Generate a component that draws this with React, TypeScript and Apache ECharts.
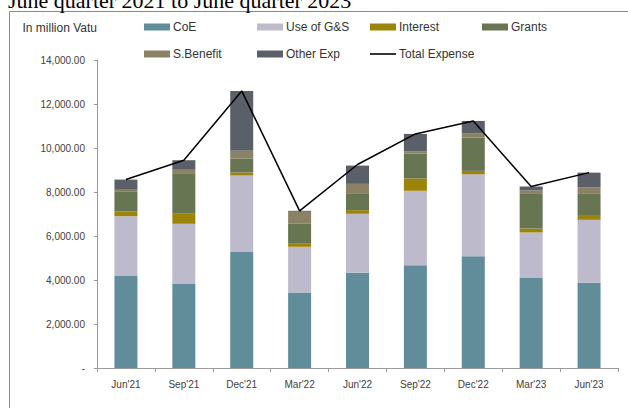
import React, { useEffect, useRef } from "react";
import * as echarts from "echarts";

const categories = ["Jun'21", "Sep'21", "Dec'21", "Mar'22", "Jun'22", "Sep'22", "Dec'22", "Mar'23", "Jun'23"];
const coe = [4210, 3845, 5300, 3435, 4330, 4675, 5085, 4115, 3875];
const useOfGS = [2690, 2710, 3450, 2075, 2680, 3380, 3720, 2045, 2860];
const interest = [215, 485, 135, 165, 165, 560, 155, 180, 180];
const grants = [920, 1815, 635, 880, 770, 1135, 1510, 1605, 1000];
const sBenefit = [65, 155, 350, 545, 425, 90, 185, 135, 300];
const otherExp = [465, 435, 2725, 45, 830, 800, 575, 170, 665];
const totalExpense = [8565, 9445, 12595, 7145, 9250, 10640, 11230, 8250, 8880];

const titleText = "June quarter 2021 to June quarter 2023";
const unitText = "In million Vatu";

const FONT = "'Liberation Sans', Arial, sans-serif";

const barSeries = [
  { name: "CoE", data: coe, color: "#618C9A" },
  { name: "Use of G&S", data: useOfGS, color: "#BDBACB" },
  { name: "Interest", data: interest, color: "#9C8409" },
  { name: "Grants", data: grants, color: "#677553" },
  { name: "S.Benefit", data: sBenefit, color: "#8B8165" },
  { name: "Other Exp", data: otherExp, color: "#5B6068" },
];

const legendPos: { name: string; left: number; top: number }[] = [
  { name: "CoE", left: 144, top: 21 },
  { name: "Use of G&S", left: 257, top: 21 },
  { name: "Interest", left: 370, top: 21 },
  { name: "Grants", left: 482, top: 21 },
  { name: "S.Benefit", left: 144, top: 48 },
  { name: "Other Exp", left: 257, top: 48 },
  { name: "Total Expense", left: 370, top: 48 },
];

export default function App() {
  const ref = useRef<HTMLDivElement>(null);
  useEffect(() => {
    if (!ref.current) return;
    const chart = echarts.init(ref.current, null, { renderer: "svg" });
    const option: any = {
      animation: false,
      backgroundColor: "#ffffff",
      graphic: [
        {
          type: "rect",
          shape: { x: 9.5, y: 11.5, width: 700, height: 500 },
          style: { fill: "none", stroke: "#8a8a8a", lineWidth: 1 },
          silent: true,
        },
        {
          type: "text",
          x: 8,
          y: 0,
          style: {
            text: titleText,
            fontFamily: "'Liberation Serif', 'Times New Roman', serif",
            fontSize: 22,
            fill: "#000",
            verticalAlign: "middle",
            align: "left",
          },
          silent: true,
        },
      ],
      legend: legendPos.map((l) => {
        const isLine = l.name === "Total Expense";
        const lg: any = {
          data: [l.name],
          left: l.left,
          top: l.top,
          padding: 0,
          itemWidth: 26,
          itemHeight: isLine ? 1.6 : 7,
          itemGap: 0,
          icon: "rect",
          selectedMode: false,
          textStyle: { fontFamily: FONT, fontSize: 12, color: "#333", padding: [0, 0, 0, -2] },
        };
        if (isLine) lg.itemStyle = { color: "#000" };
        return lg;
      }),
      grid: { left: 97, right: 10, top: 60, bottom: 40, containLabel: false },
      xAxis: {
        type: "category",
        data: categories,
        axisLine: { lineStyle: { color: "#999", width: 1 } },
        axisTick: { show: true, length: 4, lineStyle: { color: "#999" } },
        axisLabel: { fontFamily: FONT, fontSize: 10, color: "#404040", margin: 11 },
      },
      yAxis: {
        type: "value",
        min: 0,
        max: 14000,
        interval: 2000,
        name: unitText,
        nameLocation: "end",
        nameGap: 26,
        nameTextStyle: { fontFamily: FONT, fontSize: 12, color: "#333", align: "right" },
        splitLine: { show: false },
        axisLine: { show: true, lineStyle: { color: "#999", width: 1 } },
        axisTick: { show: true, length: 3, lineStyle: { color: "#999" } },
        axisLabel: {
          fontFamily: FONT,
          fontSize: 10,
          color: "#404040",
          margin: 12,
          formatter: (v: number) =>
            v === 0 ? "-" : v.toLocaleString("en-US", { minimumFractionDigits: 2, maximumFractionDigits: 2 }),
        },
      },
      series: [
        ...barSeries.map((s) => ({
          name: s.name,
          type: "bar",
          stack: "exp",
          data: s.data,
          barWidth: 23,
          itemStyle: { color: s.color },
          emphasis: { disabled: true },
        })),
        {
          name: "Total Expense",
          type: "line",
          data: totalExpense,
          symbol: "none",
          showSymbol: false,
          lineStyle: { color: "#000", width: 1.5 },
          itemStyle: { color: "#000" },
          z: 5,
        },
      ],
    };
    chart.setOption(option);
    return () => chart.dispose();
  }, []);
  return (
    <div
      ref={ref}
      style={{ position: "absolute", left: 0, top: 0, width: 628, height: 408 }}
    />
  );
}
